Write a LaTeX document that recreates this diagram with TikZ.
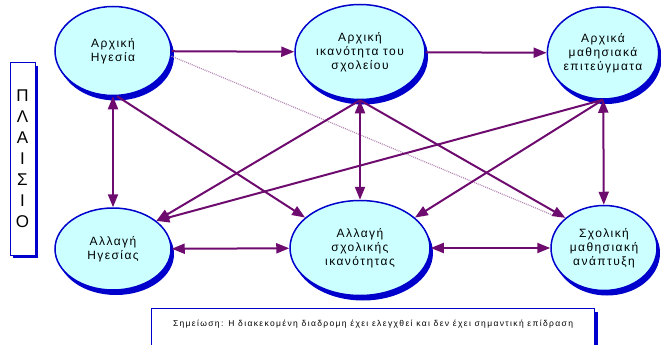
\documentclass[tikz,border=0pt]{standalone}
\usepackage{fontspec}
\setmainfont{Liberation Sans}
\usetikzlibrary{arrows.meta,positioning,shapes,shadows}
\definecolor{linkpurple}{HTML}{6E0B6E}
\definecolor{edgeblue}{HTML}{0000CC}
\definecolor{fillcyan}{HTML}{CCFFFF}
\definecolor{dotpink}{HTML}{B58AB5}

\begin{document}
\begin{tikzpicture}[x=1pt,y=-1pt,
    factor/.style={ellipse,draw=edgeblue,line width=1.5pt,fill=fillcyan,align=center,inner sep=0pt,
      drop shadow={opacity=1,fill=edgeblue,shadow xshift=3pt,shadow yshift=-5pt},
      font=\fontsize{12}{14}\selectfont\addfontfeature{LetterSpace=12}},
    panel/.style={draw=edgeblue,line width=1pt,fill=white,
      drop shadow={opacity=1,fill=edgeblue,shadow xshift=3pt,shadow yshift=-3pt}},
    arr/.style={-{Triangle[length=13pt,width=10pt]},line width=2pt,linkpurple},
    darr/.style={arr,{Triangle[length=13pt,width=10pt]}-{Triangle[length=13pt,width=10pt]}},
    dotline/.style={dotpink,line width=1.2pt,dash pattern=on 1pt off 1pt,shorten >=12pt}
]
\useasboundingbox (0,0) rectangle (661,345);

% the six factors
\node[factor,minimum width=116pt,minimum height=89pt] (AH) at (113,51) {Αρχική\\Ηγεσία};
\node[factor,minimum width=130pt,minimum height=95pt] (AS) at (360,52) {Αρχική\\ικανότητα του\\σχολείου};
\node[factor,minimum width=108pt,minimum height=92pt] (AM) at (603,53) {Αρχικά\\μαθησιακά\\επιτεύγματα};
\node[factor,minimum width=116pt,minimum height=82pt] (AL) at (113,249) {Αλλαγή\\Ηγεσίας};
\node[factor,minimum width=140pt,minimum height=95pt] (SC) at (360,248) {Αλλαγή\\σχολικής\\ικανότητας};
\node[factor,minimum width=106pt,minimum height=85pt] (SM) at (604,248) {Σχολική\\μαθησιακή\\ανάπτυξη};

% context frame and note
\node[panel,minimum width=25pt,minimum height=192pt,align=center,
  font=\fontsize{17}{21}\selectfont] (PL) at (22.5,159) {Π\\Λ\\Α\\Ι\\Σ\\Ι\\Ο};
\node[panel,anchor=north,minimum width=443pt,inner ysep=10pt,text height=8pt,text depth=20pt,
  font=\fontsize{8.5}{10}\selectfont\addfontfeature{LetterSpace=16}] (NT) at (373,308)
  {Σημείωση: Η διακεκομένη διαδρομη έχει ελεγχθεί και δεν έχει σημαντική επίδραση};

% non-significant path
\draw[dotline] (AH.-5) -- (SM.145);

% straight links
\draw[arr] (AH) -- (AS);
\draw[arr] (AS) -- (AM);
\draw[darr] (AH) -- (AL);
\draw[darr] (AS) -- (SC);
\draw[darr] (AM) -- (SM);
\draw[darr] (AL) -- (SC);
\draw[darr] (SC) -- (SM);

% crossing links
\draw[arr] (AH.-85) -- (SC.151);
\draw[arr] (AS.south) -- (AL.33);
\draw[arr] (AM.south) -- (AL.33);
\draw[arr] (AS.south) -- (SM.142);
\draw[arr] (AM.south) -- (SC.29);
\end{tikzpicture}
\end{document}
